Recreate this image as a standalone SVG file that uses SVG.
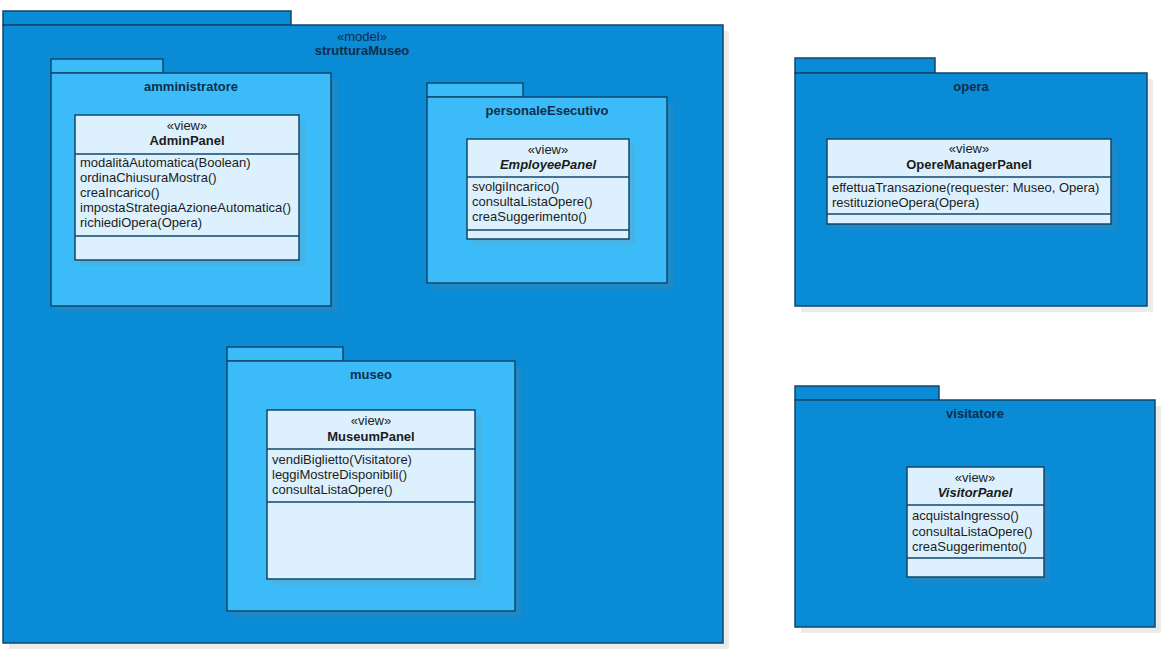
<svg xmlns="http://www.w3.org/2000/svg" width="1172" height="658" viewBox="0 0 1172 658">
<defs>
<style>
.sh{fill:#808080;fill-opacity:0.16;stroke:none}
.pkgO{fill:#0A8BD6;stroke:#12476B;stroke-width:1.5}
.pkgI{fill:#3BBCF8;stroke:#12476B;stroke-width:1.5}
.cls{fill:#DCF1FD;stroke:#12476B;stroke-width:1.5}
.ln{stroke:#12476B;stroke-width:1.5;fill:none}
text{font-family:"Liberation Sans",Arial,sans-serif;font-size:13px}
.pl{font-weight:bold;fill:#0F2E4D;text-anchor:middle}
.st{fill:#1c1c1c;text-anchor:middle}
.stO{fill:#0F2E4D;text-anchor:middle}
.cn{font-weight:bold;fill:#1c1c1c;text-anchor:middle}
.it{font-style:italic}
.m{fill:#1c1c1c}
</style>
</defs>
<rect width="1172" height="658" fill="#ffffff"/>

<g id="strutturaMuseo">
<rect class="sh" x="9" y="31" width="720" height="618"/>
<rect class="pkgO" x="3" y="11" width="288" height="14"/>
<rect class="pkgO" x="3" y="25" width="720" height="618"/>
<text class="stO" x="362" y="41">«model»</text>
<text class="pl" x="362" y="55">strutturaMuseo</text>
</g>

<g id="amministratore">
<rect class="sh" x="57" y="79" width="280" height="233"/>
<rect class="pkgI" x="51" y="59" width="112" height="14"/>
<rect class="pkgI" x="51" y="73" width="280" height="233"/>
<text class="pl" x="191" y="91">amministratore</text>
</g>

<g id="AdminPanel">
<rect class="sh" x="81" y="121" width="224" height="145"/>
<rect class="cls" x="75" y="115" width="224" height="145"/>
<text class="st" x="187" y="130">«view»</text>
<text class="cn" x="187" y="145">AdminPanel</text>
<line class="ln" x1="75" y1="154" x2="299" y2="154"/>
<text class="m" x="80" y="167">modalitàAutomatica(Boolean)</text>
<text class="m" x="80" y="182">ordinaChiusuraMostra()</text>
<text class="m" x="80" y="197">creaIncarico()</text>
<text class="m" x="80" y="212">impostaStrategiaAzioneAutomatica()</text>
<text class="m" x="80" y="227">richiediOpera(Opera)</text>
<line class="ln" x1="75" y1="236" x2="299" y2="236"/>
</g>

<g id="personaleEsecutivo">
<rect class="sh" x="433" y="103" width="240" height="186"/>
<rect class="pkgI" x="427" y="83" width="96" height="14"/>
<rect class="pkgI" x="427" y="97" width="240" height="186"/>
<text class="pl" x="547" y="115">personaleEsecutivo</text>
</g>

<g id="EmployeePanel">
<rect class="sh" x="473" y="145" width="162" height="100"/>
<rect class="cls" x="467" y="139" width="162" height="100"/>
<text class="st" x="548" y="154">«view»</text>
<text class="cn it" x="548" y="169">EmployeePanel</text>
<line class="ln" x1="467" y1="177" x2="629" y2="177"/>
<text class="m" x="472" y="191">svolgiIncarico()</text>
<text class="m" x="472" y="206">consultaListaOpere()</text>
<text class="m" x="472" y="221">creaSuggerimento()</text>
<line class="ln" x1="467" y1="230" x2="629" y2="230"/>
</g>

<g id="museo">
<rect class="sh" x="233" y="367" width="288" height="250"/>
<rect class="pkgI" x="227" y="347" width="116" height="14"/>
<rect class="pkgI" x="227" y="361" width="288" height="250"/>
<text class="pl" x="371" y="379">museo</text>
</g>

<g id="MuseumPanel">
<rect class="sh" x="273" y="416" width="208" height="169"/>
<rect class="cls" x="267" y="410" width="208" height="169"/>
<text class="st" x="371" y="425">«view»</text>
<text class="cn" x="371" y="441">MuseumPanel</text>
<line class="ln" x1="267" y1="449" x2="475" y2="449"/>
<text class="m" x="272" y="464">vendiBiglietto(Visitatore)</text>
<text class="m" x="272" y="479">leggiMostreDisponibili()</text>
<text class="m" x="272" y="494">consultaListaOpere()</text>
<line class="ln" x1="267" y1="502" x2="475" y2="502"/>
</g>

<g id="opera">
<rect class="sh" x="801" y="79" width="352" height="233"/>
<rect class="pkgO" x="795" y="58" width="140" height="15"/>
<rect class="pkgO" x="795" y="73" width="352" height="233"/>
<text class="pl" x="971" y="91">opera</text>
</g>

<g id="OpereManagerPanel">
<rect class="sh" x="833" y="145" width="284" height="85"/>
<rect class="cls" x="827" y="139" width="284" height="85"/>
<text class="st" x="969" y="153">«view»</text>
<text class="cn" x="969" y="169">OpereManagerPanel</text>
<line class="ln" x1="827" y1="177" x2="1111" y2="177"/>
<text class="m" x="832" y="192">effettuaTransazione(requester: Museo, Opera)</text>
<text class="m" x="832" y="207">restituzioneOpera(Opera)</text>
<line class="ln" x1="827" y1="214" x2="1111" y2="214"/>
</g>

<g id="visitatore">
<rect class="sh" x="801" y="406" width="360" height="227"/>
<rect class="pkgO" x="795" y="386" width="144" height="14"/>
<rect class="pkgO" x="795" y="400" width="360" height="227"/>
<text class="pl" x="975" y="418">visitatore</text>
</g>

<g id="VisitorPanel">
<rect class="sh" x="913" y="473" width="137" height="110"/>
<rect class="cls" x="907" y="467" width="137" height="110"/>
<text class="st" x="975" y="482">«view»</text>
<text class="cn it" x="975" y="497">VisitorPanel</text>
<line class="ln" x1="907" y1="505" x2="1044" y2="505"/>
<text class="m" x="912" y="520">acquistaIngresso()</text>
<text class="m" x="912" y="536">consultaListaOpere()</text>
<text class="m" x="912" y="551">creaSuggerimento()</text>
<line class="ln" x1="907" y1="558" x2="1044" y2="558"/>
</g>

<g id="connectors"></g>
</svg>
